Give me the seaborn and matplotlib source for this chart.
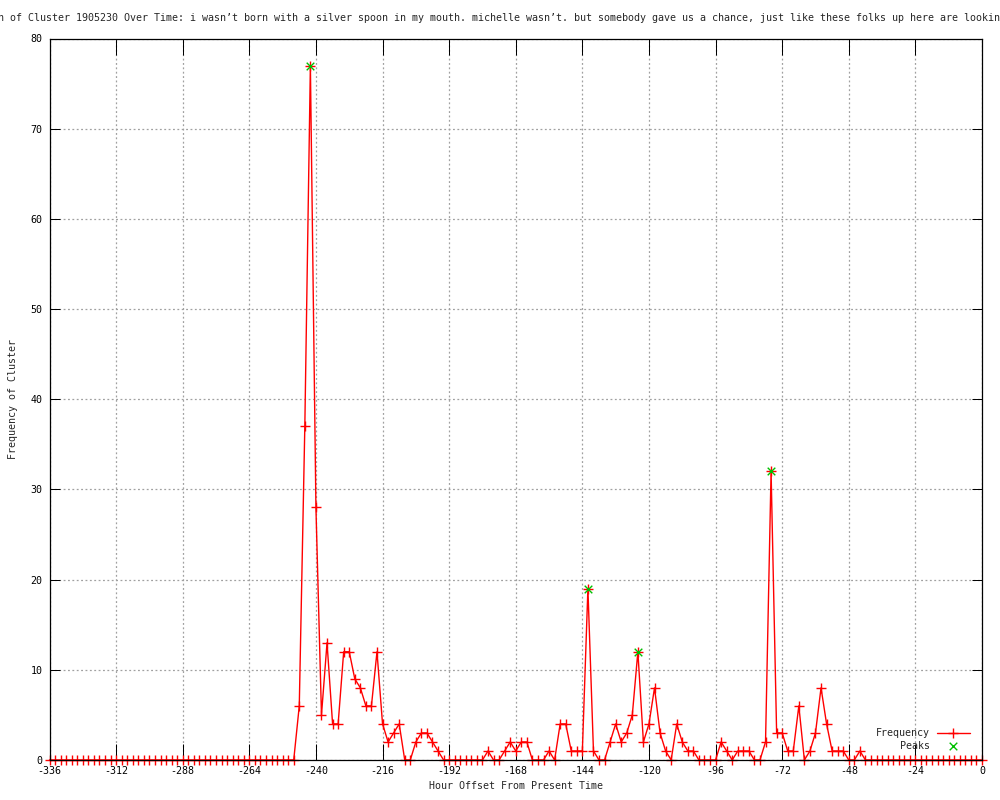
import matplotlib
matplotlib.use("Agg")
import matplotlib.pyplot as plt
import matplotlib.transforms as mtransforms
import seaborn as sns
import pandas as pd

# ---- data -------------------------------------------------------------
hours = list(range(-336, 2, 2))
frequency = (
    [0] * 45
    + [6, 37, 77, 28, 5, 13, 4, 4, 12, 12, 9, 8, 6, 6, 12, 4, 2, 3, 4, 0, 0, 2, 3, 3, 2, 1]
    + [0] * 8
    + [1, 0, 0, 1, 2, 1, 2, 2, 0, 0, 0, 1, 0, 4, 4, 1, 1, 1, 19, 1]
    + [0, 0, 2, 4, 2, 3, 5, 12, 2, 4, 8, 3, 1, 0, 4, 2, 1, 1, 0, 0, 0, 0]
    + [2, 1, 0, 1, 1, 1, 0, 0, 2, 32, 3, 3, 1, 1, 6, 0, 1, 3, 8, 4, 1, 1, 1, 0, 0, 1, 0]
    + [0] * 21
)
peak_hours = [-242, -142, -124, -76]
peak_values = [77, 19, 12, 32]

x_ticks = list(range(-336, 1, 24))
y_ticks = list(range(0, 81, 10))

title = ("Frequency Distribution of Cluster 1905230 Over Time: i wasn\u2019t born with a "
         "silver spoon in my mouth. michelle wasn\u2019t. but somebody gave us a chance, "
         "just like these folks up here are looking for a chance.")

df = pd.DataFrame({"hour": hours, "freq": frequency})
peaks = pd.DataFrame({"hour": peak_hours, "freq": peak_values})

# ---- style ------------------------------------------------------------
sns.set_style("white")
FONT = ["DejaVu Sans Mono"]
plt.rcParams["font.family"] = FONT
plt.rcParams["axes.unicode_minus"] = False
FS = 7.18

W, H = 1000, 800
fig = plt.figure(figsize=(W / 100, H / 100), dpi=100)
L, R, T, B = 49.5, 982.0, 38.5, 760.0
ax = fig.add_axes([L / W, 1 - B / H, (R - L) / W, (B - T) / H])

RED = "#ff0000"
GREEN = "#00c000"

sns.lineplot(data=df, x="hour", y="freq", ax=ax, color=RED, linewidth=1.0,
             marker="+", markersize=7, markeredgewidth=1.0, markeredgecolor=RED,
             label="Frequency", clip_on=False, zorder=2)
sns.scatterplot(data=peaks, x="hour", y="freq", ax=ax, color=GREEN, marker="x",
                s=30, linewidth=1.0, label="    Peaks", clip_on=False, zorder=3)

ax.set_xlim(-336, 0)
ax.set_ylim(0, 80)
ax.set_xticks(x_ticks)
ax.set_yticks(y_ticks)
ax.tick_params(axis="x", direction="in", length=11.5, width=0.72, top=True,
               bottom=True, labelsize=FS, pad=4, colors="black")
ax.tick_params(axis="y", direction="in", length=7, width=0.72, left=True,
               right=True, labelsize=FS, pad=5, colors="black")
for lab in ax.get_xticklabels() + ax.get_yticklabels():
    lab.set_family(FONT)

ax.grid(True, color="#a0a0a0", linestyle=(0, (1.5, 2.0)), linewidth=0.9)
ax.set_axisbelow(True)
for s in ax.spines.values():
    s.set_visible(True)
    s.set_color("black")
    s.set_linewidth(0.9)
    s.set_zorder(5)

ax.set_xlabel("Hour Offset From Present Time", fontsize=FS, labelpad=4, family=FONT)
ax.set_ylabel("Frequency of Cluster", fontsize=FS, family=FONT)
ax.yaxis.set_label_coords((18 - L) / (R - L), 0.5)

# legend (gnuplot style: text first, sample after)
handles, labels = ax.get_legend_handles_labels()
leg = ax.legend(handles, labels, loc="upper left", markerfirst=False, frameon=False,
                bbox_to_anchor=(876 / W, 1 - 728 / H), bbox_transform=fig.transFigure,
                fontsize=FS, handlelength=3.3, handletextpad=0.7, labelspacing=0.28,
                borderpad=0, borderaxespad=0, prop={"family": FONT, "size": FS})

# title (long, clipped at the figure edges like the original)
trans = mtransforms.blended_transform_factory(
    mtransforms.IdentityTransform(), fig.transFigure)
fig.text(-128, 1 - 18 / H, title, transform=trans, ha="left", va="center",
         fontsize=FS, family=FONT)

fig.savefig("out.png", dpi=100)
